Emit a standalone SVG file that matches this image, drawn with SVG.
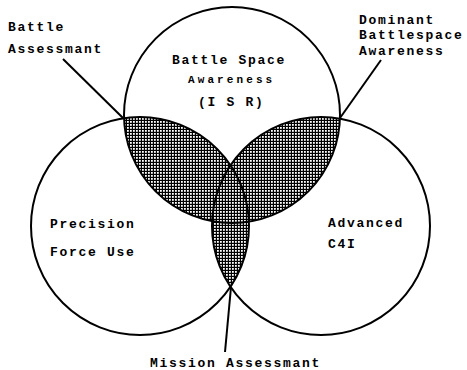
<svg xmlns="http://www.w3.org/2000/svg" width="467" height="370" viewBox="0 0 467 370">
<style>
.c{fill:none;stroke:#000;stroke-width:2}
.l{stroke:#000;stroke-width:2;fill:none}
text{font-family:"Liberation Mono","DejaVu Sans Mono",monospace;font-weight:bold;font-size:13px;letter-spacing:1.7px;fill:#000}
</style>
<defs>
<pattern id="hatch" width="3" height="3" patternUnits="userSpaceOnUse">
<rect width="3" height="3" fill="#000"/>
<rect x="1" y="1" width="1.8" height="1.8" fill="#fff"/>
</pattern>
<clipPath id="cT"><circle cx="232" cy="115" r="108"/></clipPath>
<clipPath id="cL"><circle cx="140" cy="226" r="109"/></clipPath>
</defs>
<rect width="467" height="370" fill="#fff"/>
<g id="overlaps">
<circle cx="140" cy="226" r="109" fill="url(#hatch)" clip-path="url(#cT)"/>
<circle cx="321" cy="226" r="109" fill="url(#hatch)" clip-path="url(#cT)"/>
<circle cx="321" cy="226" r="109" fill="url(#hatch)" clip-path="url(#cL)"/>
</g>
<g id="top-circle">
<circle class="c" cx="232" cy="115" r="108"/>
<text x="172" y="64">Battle Space</text>
<text x="188" y="83" style="font-size:11px;letter-spacing:3.1px">Awareness</text>
<text x="198" y="106">(I S R)</text>
</g>
<g id="left-circle">
<circle class="c" cx="140" cy="226" r="109"/>
<text x="50" y="228">Precision</text>
<text x="50" y="256">Force Use</text>
</g>
<g id="right-circle">
<circle class="c" cx="321" cy="226" r="109"/>
<text x="328" y="227">Advanced</text>
<text x="328" y="248">C4I</text>
</g>
<g id="connectors">
<line class="l" x1="63" y1="59" x2="123" y2="118"/>
<line class="l" x1="381" y1="60" x2="340" y2="118"/>
<line class="l" x1="231" y1="287" x2="225" y2="352"/>
</g>
<g id="label-battle-assessment">
<text x="8" y="31">Battle</text>
<text x="8" y="53">Assessmant</text>
</g>
<g id="label-dominant">
<text x="359" y="24">Dominant</text>
<text x="359" y="39">Battlespace</text>
<text x="359" y="55">Awareness</text>
</g>
<g id="label-mission">
<text x="150" y="367">Mission Assessmant</text>
</g>
</svg>
